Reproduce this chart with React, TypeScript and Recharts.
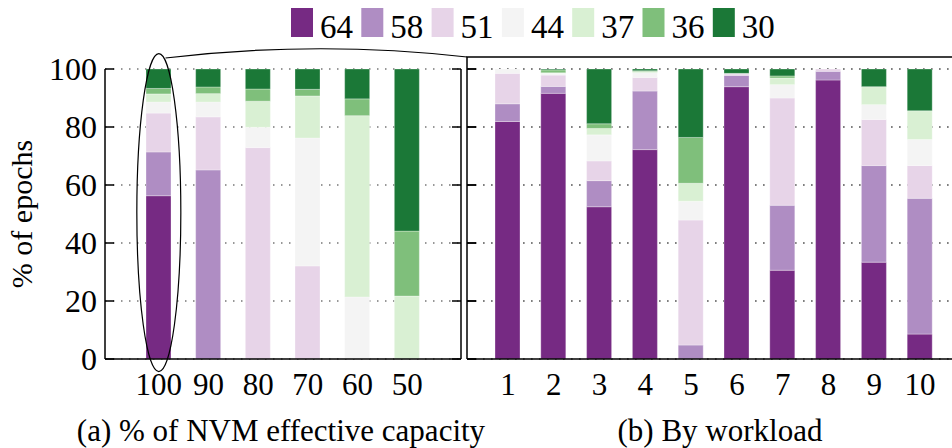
import { BarChart, Bar, XAxis, YAxis, CartesianGrid, ReferenceDot } from "recharts";

// bit-width levels, darkest purple (64) to darkest green (30)
const levels = ["64", "58", "51", "44", "37", "36", "30"];
const levelColors = ["#762a83", "#af8dc3", "#e7d4e8", "#f4f4f4", "#d9f0d3", "#7fbf7b", "#1b7837"];

const yTicks = [0, 20, 40, 60, 80, 100];

// (a) share of epochs per level, one row per NVM capacity
const capacities = ["100", "90", "80", "70", "60", "50"];
const capacityShares = [
  [56.3, 15.1, 13.4, 3.8, 2.8, 1.9, 6.7],
  [0, 65.2, 18.3, 5.1, 2.9, 2.3, 6.2],
  [0, 0, 72.9, 7.0, 9.0, 4.2, 6.9],
  [0, 0, 32.1, 44.1, 14.5, 2.3, 7.0],
  [0, 0, 0, 21.4, 62.5, 5.8, 10.3],
  [0, 0, 0, 0, 21.7, 22.4, 55.9],
];

// (b) share of epochs per level, one row per workload
const workloads = ["1", "2", "3", "4", "5", "6", "7", "8", "9", "10"];
const workloadShares = [
  [81.9, 6.1, 10.5, 1.5, 0, 0, 0],
  [91.6, 2.4, 3.9, 0.6, 0.2, 1.0, 0.3],
  [52.5, 9.0, 6.8, 9.0, 2.2, 1.6, 18.9],
  [72.2, 20.2, 4.7, 1.6, 0.4, 0.3, 0.6],
  [0, 4.8, 43.1, 6.5, 6.2, 15.8, 23.6],
  [93.9, 3.9, 0.5, 0.2, 0, 0, 1.5],
  [30.6, 22.4, 37.0, 4.6, 2.3, 0.7, 2.4],
  [96.2, 3.0, 0.8, 0, 0, 0, 0],
  [33.4, 33.3, 15.9, 5.1, 6.2, 0, 6.1],
  [8.6, 46.8, 11.3, 9.0, 9.9, 0, 14.4],
];

const toRows = (labels: string[], shares: number[][]) =>
  labels.map((label, i) => {
    const row: Record<string, string | number> = { label };
    levels.forEach((lv, j) => (row[lv] = shares[i][j]));
    return row;
  });

const capacityData = toRows(capacities, capacityShares);
const workloadData = toRows(workloads, workloadShares);

const FONT = "Liberation Serif";

// plot box shared by both panels
const PLOT_TOP = 69;
const PLOT_H = 290;
const RIGHT_PLOT_X = 467;
const tickY = (v: number) => PLOT_TOP + PLOT_H * (1 - v / 100);

const XTick = (props: any) => (
  <text x={props.x} y={props.y + 36} textAnchor="middle" fontFamily={FONT} fontSize={31} fill="#000">
    {props.payload.value}
  </text>
);

// tick marks only, no label
const NoLabel = () => <g />;

const axisLine = { stroke: "#000", strokeWidth: 1.5 };

const dottedGrid = {
  vertical: false,
  horizontalValues: yTicks,
  stroke: "#777",
  strokeWidth: 1.5,
  strokeDasharray: "1.5 6.5",
};

const stackBars = (axisId: string) =>
  levels.map((lv, j) => (
    <Bar
      key={lv}
      yAxisId={axisId}
      dataKey={lv}
      name={lv}
      stackId="s"
      fill={levelColors[j]}
      stroke="#ffffff"
      strokeOpacity={0.5}
      strokeWidth={0.6}
      barSize={25}
      isAnimationActive={false}
    />
  ));

export default function App() {
  return (
    <div
      style={{
        position: "absolute",
        left: 0,
        top: 0,
        width: 952,
        height: 448,
        overflow: "hidden",
        background: "#fff",
      }}
    >
      {/* dotted grid behind panel (b) */}
      <svg width={952} height={448} style={{ position: "absolute", left: 0, top: 0 }}>
        {yTicks.map((v) => (
          <line
            key={v}
            x1={RIGHT_PLOT_X}
            x2={952}
            y1={tickY(v)}
            y2={tickY(v)}
            stroke="#777"
            strokeWidth={1.5}
            strokeDasharray="1.5 6.5"
          />
        ))}
      </svg>

      {/* (a) by capacity */}
      <div style={{ position: "absolute", left: 0, top: 0 }}>
        <BarChart
          width={470}
          height={448}
          data={capacityData}
          margin={{ top: PLOT_TOP, right: 8, bottom: 49, left: 0 }}
          barCategoryGap={0}
        >
          <CartesianGrid yAxisId="l" {...dottedGrid} />
          <XAxis
            dataKey="label"
            padding={{ left: 29, right: 29 }}
            axisLine={axisLine}
            tickLine={false}
            tickSize={0}
            tickMargin={0}
            height={40}
            tick={<XTick />}
            interval={0}
          />
          <YAxis
            yAxisId="l"
            domain={[0, 100]}
            ticks={yTicks}
            interval={0}
            allowDataOverflow
            width={105}
            axisLine={axisLine}
            tickLine={axisLine}
            tickSize={-9}
            tickMargin={17}
            tick={{ fontSize: 32, fill: "#000", fontFamily: FONT }}
            label={{
              value: "% of epochs",
              angle: -90,
              position: "insideLeft",
              dx: 16,
              style: { fontSize: 30, fill: "#000", fontFamily: FONT, textAnchor: "middle" },
            }}
          />
          <YAxis
            yAxisId="r"
            orientation="right"
            domain={[0, 100]}
            ticks={yTicks}
            interval={0}
            allowDataOverflow
            width={1}
            axisLine={axisLine}
            tickLine={axisLine}
            tickSize={-9}
            tick={<NoLabel />}
          />
          {stackBars("l")}
          <ReferenceDot
            yAxisId="l"
            x="100"
            y={50.5}
            ifOverflow="visible"
            shape={(p: any) => (
              <ellipse cx={p.cx} cy={p.cy} rx={22} ry={159} fill="none" stroke="#000" strokeWidth={1.2} />
            )}
          />
        </BarChart>
      </div>

      {/* (b) by workload; its right edge runs past the page */}
      <div style={{ position: "absolute", left: 440, top: 0 }}>
        <BarChart
          width={531}
          height={448}
          data={workloadData}
          margin={{ top: PLOT_TOP, right: 0, bottom: 49, left: 0 }}
          barCategoryGap={0}
        >
          <CartesianGrid yAxisId="w" {...dottedGrid} />
          <XAxis
            dataKey="label"
            padding={{ left: 18, right: 28 }}
            axisLine={axisLine}
            tickLine={false}
            tickSize={0}
            tickMargin={0}
            height={40}
            tick={<XTick />}
            interval={0}
          />
          <YAxis
            yAxisId="w"
            domain={[0, 100]}
            ticks={yTicks}
            interval={0}
            allowDataOverflow
            width={27}
            axisLine={axisLine}
            tickLine={axisLine}
            tickSize={-9}
            tick={<NoLabel />}
          />
          {stackBars("w")}
        </BarChart>
      </div>

      {/* zoom frame, inward ticks of (b), connector, legend and captions */}
      <svg
        width={952}
        height={448}
        style={{ position: "absolute", left: 0, top: 0, pointerEvents: "none" }}
      >
        <path d="M 165.5 58 Q 317 40 467 57" fill="none" stroke="#000" strokeWidth={1.2} />
        <path d="M 467 69 L 467 57 L 952 57" fill="none" stroke="#000" strokeWidth={1.5} />
        {yTicks.map((v) => (
          <line
            key={v}
            x1={RIGHT_PLOT_X}
            x2={RIGHT_PLOT_X + 9}
            y1={tickY(v)}
            y2={tickY(v)}
            stroke="#000"
            strokeWidth={1.5}
          />
        ))}
        {levels.map((lv, i) => (
          <g key={lv}>
            <rect x={291 + i * 70.3} y={8} width={22} height={29} fill={levelColors[i]} />
            <text x={320 + i * 70.3} y={38} fontFamily={FONT} fontSize={33} fill="#000">
              {lv}
            </text>
          </g>
        ))}
        <text x={281} y={441} textAnchor="middle" fontFamily={FONT} fontSize={31} fill="#000">
          (a) % of NVM effective capacity
        </text>
        <text x={720} y={441} textAnchor="middle" fontFamily={FONT} fontSize={31} fill="#000">
          (b) By workload
        </text>
      </svg>
    </div>
  );
}
